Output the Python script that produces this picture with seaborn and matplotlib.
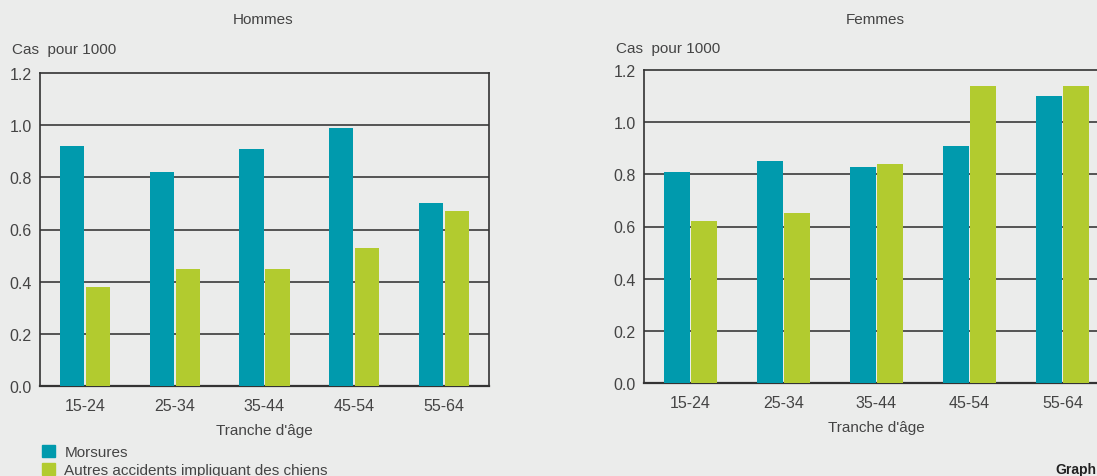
import pandas as pd
import numpy as np
import matplotlib
matplotlib.use("Agg")
import matplotlib.pyplot as plt
import seaborn as sns

# data
age_groups = ["15-24", "25-34", "35-44", "45-54", "55-64"]
series_names = ["Morsures", "Autres accidents impliquant des chiens"]
hommes_morsures = [0.92, 0.82, 0.91, 0.99, 0.70]
hommes_autres = [0.38, 0.45, 0.45, 0.53, 0.67]
femmes_morsures = [0.81, 0.85, 0.83, 0.91, 1.10]
femmes_autres = [0.62, 0.65, 0.84, 1.14, 1.14]
y_ticks = [0.0, 0.2, 0.4, 0.6, 0.8, 1.0, 1.2]

BG = "#ebeceb"
TEAL = "#009aad"
GREEN = "#b2cb2f"
TXT = "#444444"
FS = 11

sns.set_theme(style="white")
plt.rcParams["font.family"] = ["Liberation Sans", "DejaVu Sans"]
plt.rcParams["font.size"] = FS


def make_df(morsures, autres):
    rows = []
    for i, g in enumerate(age_groups):
        rows.append({"age": g, "serie": series_names[0], "val": morsures[i]})
        rows.append({"age": g, "serie": series_names[1], "val": autres[i]})
    return pd.DataFrame(rows)


def draw_panel(ax, df):
    sns.barplot(data=df, x="age", y="val", hue="serie", order=age_groups,
                hue_order=series_names, palette=[TEAL, GREEN], width=0.58,
                gap=0.07, saturation=1, ax=ax, legend=False, zorder=3,
                linewidth=0)
    ax.set_facecolor(BG)
    ax.set_ylim(0, 1.2)
    ax.set_xlim(-0.5, 4.5)
    ax.set_yticks(y_ticks)
    ax.set_yticklabels(["%.1f" % t for t in y_ticks], color=TXT, fontsize=11.5)
    ax.tick_params(axis="x", colors=TXT, labelsize=11.5, length=0, pad=9)
    ax.tick_params(axis="y", length=0, pad=6)
    for t in y_ticks[1:-1]:
        ax.axhline(t, color="#3a3a3a", lw=1.2, zorder=1)
    for s in ax.spines.values():
        s.set_visible(True)
        s.set_color("#333333")
        s.set_linewidth(1.2)
    ax.spines["bottom"].set_linewidth(1.6)
    ax.set_xlabel("Tranche d'âge", color=TXT, fontsize=FS, labelpad=7)
    ax.set_ylabel("")


fig = plt.figure(figsize=(10.97, 4.77), dpi=100, facecolor=BG)
ax1 = fig.add_axes([40 / 1097, 90 / 477, 449 / 1097, 313 / 477])
ax2 = fig.add_axes([644 / 1097, 93 / 477, 465 / 1097, 313 / 477])

draw_panel(ax1, make_df(hommes_morsures, hommes_autres))
draw_panel(ax2, make_df(femmes_morsures, femmes_autres))

fig.text(263 / 1097, 1 - 20 / 477, "Hommes", ha="center", va="center", color=TXT, fontsize=FS)
fig.text(875 / 1097, 1 - 20 / 477, "Femmes", ha="center", va="center", color=TXT, fontsize=FS)
fig.text(12 / 1097, 1 - 50 / 477, "Cas  pour 1000", ha="left", va="center", color=TXT, fontsize=FS)
fig.text(616 / 1097, 1 - 49 / 477, "Cas  pour 1000", ha="left", va="center", color=TXT, fontsize=FS)

handles = [plt.Rectangle((0, 0), 1, 1, color=TEAL), plt.Rectangle((0, 0), 1, 1, color=GREEN)]
fig.legend(handles, series_names, loc="upper left", bbox_to_anchor=(36 / 1097, 1 - 440 / 477),
           frameon=False, fontsize=FS, handlelength=0.85, handleheight=0.85,
           handletextpad=0.6, labelspacing=0.2, labelcolor=TXT, borderaxespad=0)

# caption cut by the right edge, as in the reference
fig.text(1055 / 1097, 1 - 470 / 477, "Graphique", ha="left", va="center",
         fontsize=10, fontweight="bold", color="#222222")

fig.savefig("out.png", dpi=100, facecolor=BG)
